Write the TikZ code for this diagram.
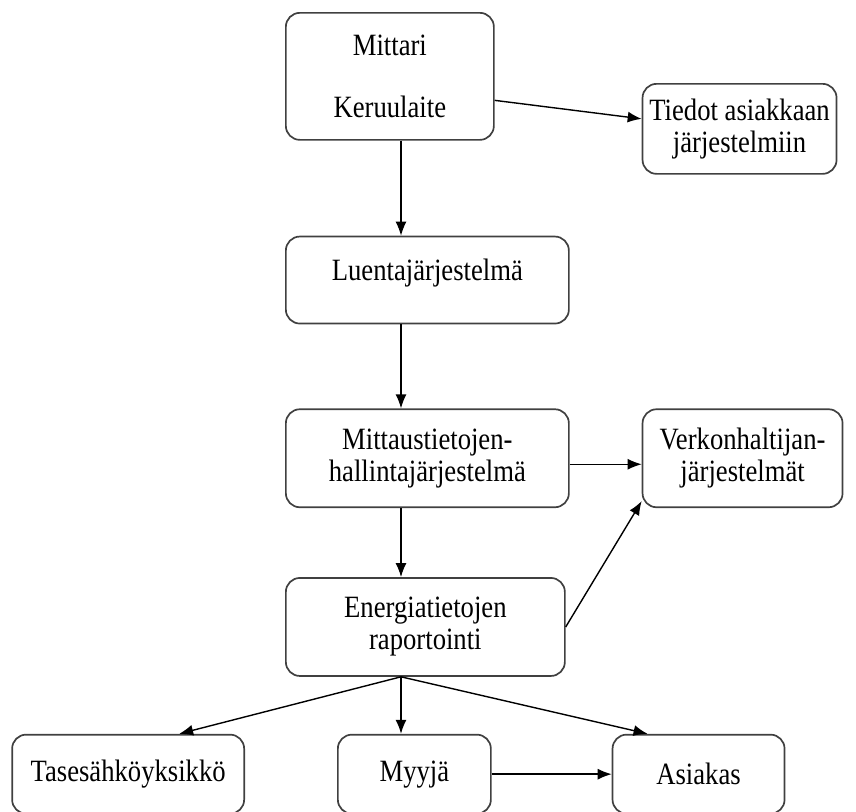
\documentclass[tikz,border=0pt]{standalone}
\usepackage{fontspec}
\setmainfont{Liberation Serif}[FakeStretch=0.86]
\usetikzlibrary{positioning, arrows.meta}

\begin{document}
\begin{tikzpicture}[x=1pt, y=1pt, font=\fontsize{31}{32}\selectfont,
        box/.style={draw=black!75, line width=1.7pt, rounded corners=14pt, rectangle, align=center, inner sep=0pt},
        flow/.style={-{Latex[length=14pt, width=11pt]}, line width=1.4pt}]
        \useasboundingbox (0,0) rectangle (856,-811);
        \node[box, anchor=north west, minimum width=208pt, minimum height=127pt] (meter) at (285,-12) {Mittari\\[30pt]Keruulaite};
        \node[box, right=147pt of meter.north east, anchor=north west, yshift=-71pt, minimum width=194pt, minimum height=90pt] (tiedot) {Tiedot asiakkaan\\järjestelmiin};
        \node[box, below=95pt of meter.south west, anchor=north west, minimum width=283pt, minimum height=87pt, text depth=21pt] (luenta) {Luentajärjestelmä};
        \node[box, below=84pt of luenta, minimum width=283pt, minimum height=98pt] (mittaus) {Mittaustietojen-\\hallintajärjestelmä};
        \node[box, right=72pt of mittaus, minimum width=200pt, minimum height=98pt] (verkko) {Verkonhaltijan-\\järjestelmät};
        \node[box, below=69pt of mittaus.south west, anchor=north west, minimum width=279pt, minimum height=98pt] (energia) {Energiatietojen\\raportointi};
        \node[box, below=57pt of energia.south west, anchor=north west, xshift=52pt, minimum width=153pt, minimum height=79pt] (myyja) {Myyjä};
        \node[box, left=92pt of myyja, minimum width=232pt, minimum height=79pt] (tase) {Tasesähköyksikkö};
        \node[box, right=120pt of myyja, minimum width=172pt, minimum height=79pt] (asiakas) {Asiakas};

        % main line down the middle
        \coordinate (spine) at ([xshift=116pt]meter.south west);
        \draw[flow] (meter.south -| spine) -- (luenta.north -| spine);
        \draw[flow] (luenta.south -| spine) -- (mittaus.north -| spine);
        \draw[flow] (mittaus.south -| spine) -- (energia.north -| spine);
        \draw[flow] ([yshift=-24pt]meter.east) -- ([yshift=10pt]tiedot.west);
        \draw[flow] ([yshift=-6pt]mittaus.east) -- ([yshift=-6pt]verkko.west);
        \draw[flow] (energia.east) -- ([yshift=7pt]verkko.south west);
        \draw[flow] (energia.south -| spine) -- ([xshift=51pt]tase.north);
        \draw[flow] (energia.south -| spine) -- (myyja.north -| spine);
        \draw[flow] (energia.south -| spine) -- ([xshift=-51pt]asiakas.north);
        \draw[flow] (myyja.east) -- (asiakas.west);
    \end{tikzpicture}
\end{document}
